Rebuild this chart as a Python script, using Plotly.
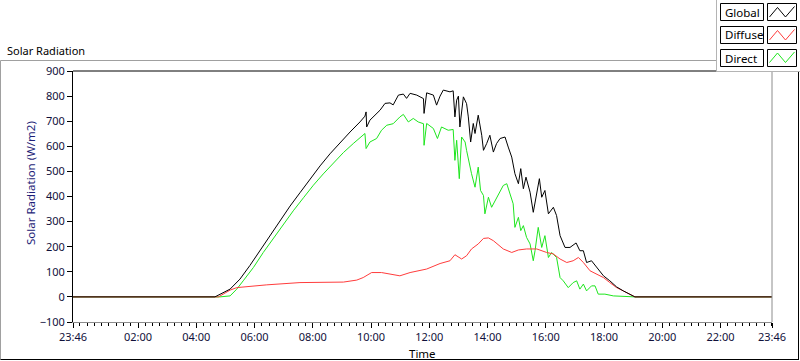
import plotly.graph_objects as go

# ---------------- data (hours of day; 23:46 previous day = -0.2333) ----------------
global_t = [-0.2333, 4.64, 5.16, 5.50, 5.84, 6.19, 6.53, 6.87, 7.22, 7.56, 7.90, 8.25, 8.59, 8.93,
            9.28, 9.62, 9.79, 9.83, 9.85, 9.96, 10.08, 10.31, 10.48, 10.65, 10.76, 10.94, 11.11,
            11.22, 11.34, 11.57, 11.80, 11.82, 11.91, 12.14, 12.25, 12.37, 12.48, 12.71, 12.82,
            12.88, 12.94, 13.00, 13.05, 13.17, 13.28, 13.34, 13.42, 13.51, 13.57, 13.68, 13.80,
            13.86, 13.97, 14.08, 14.20, 14.31, 14.43, 14.60, 14.71, 14.83, 14.94, 15.06, 15.14,
            15.23, 15.32, 15.46, 15.57, 15.69, 15.78, 15.86, 15.97, 16.09, 16.26, 16.37, 16.49,
            16.66, 16.83, 17.04, 17.17, 17.29, 17.40, 17.57, 17.75, 17.98, 18.20, 18.43, 18.66,
            18.89, 19.06, 23.7667]
global_v = [0, 0, 31, 71, 125, 185, 245, 305, 362, 415, 470, 522, 570, 615,
            657, 697, 720, 737, 677, 704, 717, 744, 771, 773, 765, 804, 808,
            791, 811, 804, 790, 731, 813, 804, 764, 800, 824, 817, 821,
            717, 784, 800, 677, 797, 770, 717, 617, 691, 651, 724, 644,
            584, 611, 644, 577, 611, 631, 637, 597, 557, 491, 451, 511,
            431, 477, 417, 337, 411, 471, 397, 424, 331, 357, 324, 244,
            197, 197, 215, 184, 184, 137, 144, 117, 84, 64, 40, 24,
            11, 0, 0]

diffuse_t = [-0.2333, 4.76, 5.16, 5.39, 6.42, 7.56, 9.05, 9.51, 9.73, 10.02, 10.36, 10.88, 10.99,
             11.34, 11.91, 12.37, 12.71, 12.88, 13.11, 13.28, 13.45, 13.68, 13.86, 14.03, 14.20,
             14.54, 14.83, 15.06, 15.34, 15.69, 16.03, 16.26, 16.49, 16.72, 16.94, 17.12, 17.29,
             17.52, 17.75, 17.98, 18.20, 18.43, 18.66, 18.89, 19.06, 23.7667]
diffuse_v = [0, 0, 27, 37, 48, 57, 59, 67, 77, 97, 97, 87, 84,
             97, 111, 133, 144, 168, 151, 164, 191, 211, 233, 235, 224,
             191, 177, 187, 191, 191, 177, 171, 151, 137, 144, 157, 137,
             104, 91, 77, 57, 37, 24, 11, 0, 0]

direct_t = [-0.2333, 4.81, 5.16, 5.39, 5.61, 5.96, 6.30, 6.64, 6.99, 7.33, 7.68, 8.02, 8.36, 8.71,
            9.05, 9.39, 9.79, 9.83, 9.96, 10.19, 10.36, 10.54, 10.76, 10.99, 11.11, 11.28, 11.45,
            11.62, 11.80, 11.82, 11.91, 12.14, 12.28, 12.42, 12.65, 12.82, 12.88, 12.94, 13.03,
            13.11, 13.23, 13.28, 13.37, 13.45, 13.57, 13.68, 13.76, 13.86, 13.91, 14.03, 14.14,
            14.26, 14.43, 14.54, 14.66, 14.77, 14.88, 14.94, 15.06, 15.14, 15.23, 15.34, 15.46,
            15.57, 15.63, 15.74, 15.86, 15.97, 16.09, 16.20, 16.37, 16.49, 16.60, 16.77, 16.94,
            17.06, 17.17, 17.29, 17.40, 17.57, 17.69, 17.80, 18.03, 18.32, 18.66, 19.06, 23.7667]
direct_v = [0, 0, 4, 31, 64, 117, 177, 233, 289, 343, 395, 445, 490, 535,
            575, 611, 651, 591, 617, 631, 664, 684, 690, 717, 727, 697, 711,
            697, 690, 604, 691, 671, 631, 677, 664, 667, 544, 624, 471,
            637, 617, 584, 531, 491, 437, 517, 424, 404, 331, 397, 357,
            384, 424, 444, 451, 411, 371, 277, 317, 264, 284, 237, 211,
            144, 184, 277, 197, 244, 157, 177, 157, 77, 64, 37, 57,
            64, 31, 51, 24, 44, 44, 11, 11, 4, 1, 0, 0]

x_tickvals = [-0.2333, 2, 4, 6, 8, 10, 12, 14, 16, 18, 20, 22, 23.7667]
x_ticktext = ["23:46", "02:00", "04:00", "06:00", "08:00", "10:00", "12:00", "14:00",
              "16:00", "18:00", "20:00", "22:00", "23:46"]
y_tickvals = [-100, 0, 100, 200, 300, 400, 500, 600, 700, 800, 900]

series_names = ["Global", "Diffuse", "Direct"]
series_colors = ["#000000", "#ff3c3c", "#1ee61e"]

# ---------------- layout geometry (pixels) ----------------
W, H = 800, 361
L, R, T, B = 73, 772, 71, 322
PW, PH = R - L, B - T


def px(x):
    return (x - L) / PW


def py(y):
    return (B - y) / PH


fig = go.Figure()
# draw order: Direct, Diffuse, Global on top
for t, v, name, col in [(direct_t, direct_v, "Direct", series_colors[2]),
                        (diffuse_t, diffuse_v, "Diffuse", series_colors[1]),
                        (global_t, global_v, "Global", series_colors[0])]:
    fig.add_trace(go.Scatter(x=t, y=v, mode="lines", name=name,
                             line=dict(color=col, width=1), showlegend=False,
                             hoverinfo="skip"))

font_main = "Noto Sans, Open Sans, sans-serif"
tick_col = "#10103a"

shapes = []
# outer frame
shapes.append(dict(type="line", xref="paper", yref="paper", x0=px(0.5), x1=px(717), y0=py(60.5), y1=py(60.5),
                   line=dict(color="#a0a0a0", width=1)))
shapes.append(dict(type="line", xref="paper", yref="paper", x0=px(0.5), x1=px(0.5), y0=py(60.5), y1=py(359.5),
                   line=dict(color="#a0a0a0", width=1)))
shapes.append(dict(type="line", xref="paper", yref="paper", x0=px(0.5), x1=px(799), y0=py(359.5), y1=py(359.5),
                   line=dict(color="#000000", width=1)))
shapes.append(dict(type="line", xref="paper", yref="paper", x0=px(798.5), x1=px(798.5), y0=py(60.5), y1=py(359.5),
                   line=dict(color="#000000", width=1)))
# plot frame: top black, right gray
shapes.append(dict(type="line", xref="paper", yref="paper", x0=0, x1=1, y0=1, y1=1,
                   line=dict(color="#000000", width=1)))
shapes.append(dict(type="line", xref="paper", yref="paper", x0=1, x1=1, y0=0, y1=1,
                   line=dict(color="#8c8c8c", width=1)))
# legend panel
shapes.append(dict(type="rect", xref="paper", yref="paper", x0=px(716.5), x1=px(800), y0=py(0), y1=py(71.5),
                   fillcolor="#ffffff", line=dict(width=0)))
shapes.append(dict(type="line", xref="paper", yref="paper", x0=px(716.5), x1=px(716.5), y0=py(0), y1=py(71.5),
                   line=dict(color="#b4b4b4", width=1)))
shapes.append(dict(type="line", xref="paper", yref="paper", x0=px(716.5), x1=px(800), y0=py(71.5), y1=py(71.5),
                   line=dict(color="#b4b4b4", width=1)))

annotations = []
box_tops = [3.5, 26.5, 49.5]
box_bots = [20.5, 43.5, 66.5]
zig_offsets = [0, 23, 45.5]
for i, name in enumerate(series_names):
    y0, y1 = box_tops[i], box_bots[i]
    shapes.append(dict(type="rect", xref="paper", yref="paper", x0=px(720.5), x1=px(763.5),
                       y0=py(y1), y1=py(y0), line=dict(color="#000000", width=1)))
    shapes.append(dict(type="rect", xref="paper", yref="paper", x0=px(767.5), x1=px(796.5),
                       y0=py(y1), y1=py(y0), line=dict(color="#000000", width=1)))
    o = zig_offsets[i]
    pts = [(769.5, 17 + o), (777.5, 7.5 + o), (785.5, 17 + o), (794.5, 6.5 + o)]
    path = "M " + " L ".join(f"{px(a):.5f},{py(b):.5f}" for a, b in pts)
    shapes.append(dict(type="path", xref="paper", yref="paper", path=path,
                       line=dict(color=series_colors[i], width=1)))
    annotations.append(dict(text=name, xref="paper", yref="paper", x=px(723), y=py((y0 + y1) / 2),
                            xanchor="left", yanchor="middle", showarrow=False,
                            font=dict(family=font_main, size=11.5, color="#000000")))

annotations.append(dict(text="Solar Radiation", xref="paper", yref="paper", x=px(5), y=py(50.5),
                        xanchor="left", yanchor="middle", showarrow=False,
                        font=dict(family=font_main, size=11, color="#000000")))
annotations.append(dict(text="Solar Radiation (W/m2)", xref="paper", yref="paper", x=px(30), y=py(183),
                        xanchor="center", yanchor="middle", textangle=-90, showarrow=False,
                        font=dict(family=font_main, size=11.5, color="#1e1e78")))
annotations.append(dict(text="Time", xref="paper", yref="paper", x=px(422), y=py(353),
                        xanchor="center", yanchor="middle", showarrow=False,
                        font=dict(family=font_main, size=11.5, color="#000000")))

fig.update_layout(
    width=W, height=H, autosize=False,
    margin=dict(l=L, r=W - R, t=T, b=H - B, pad=0),
    paper_bgcolor="#ffffff", plot_bgcolor="#ffffff",
    font=dict(family=font_main, size=11, color=tick_col),
    showlegend=False,
    shapes=shapes,
    annotations=annotations,
    xaxis=dict(range=[-0.2333, 23.7667], tickmode="array", tickvals=x_tickvals, ticktext=x_ticktext,
               showgrid=False, zeroline=False, showline=True, linecolor="#8c8c8c", linewidth=1,
               ticks="outside", ticklen=5, tickcolor="#000000", tickwidth=1,
               minor=dict(tickmode="linear", tick0=0, dtick=0.25, ticks="outside", ticklen=3,
                          tickcolor="#000000", tickwidth=1, showgrid=False),
               tickfont=dict(family=font_main, size=11, color=tick_col), automargin=False,
               fixedrange=True),
    yaxis=dict(range=[-100, 900], tickmode="array", tickvals=y_tickvals,
               showgrid=False, zeroline=False, showline=True, linecolor="#000000", linewidth=1,
               ticks="outside", ticklen=5, tickcolor="#000000", tickwidth=1,
               tickfont=dict(family=font_main, size=11, color=tick_col), automargin=False,
               fixedrange=True),
)

fig.write_html("out.html", config={"displayModeBar": False},
               post_script="document.body.style.margin='0';document.body.style.overflow='hidden';")
